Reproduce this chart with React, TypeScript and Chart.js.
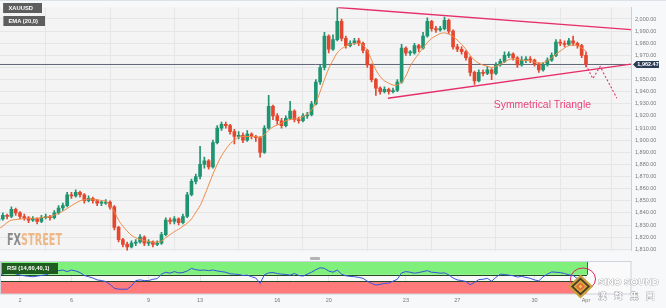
import React, { useEffect, useRef } from 'react';
import { Chart, registerables } from 'chart.js';

Chart.register(...registerables);

// ---- data (4-hour candles, XAU/USD, Mar 1 – Apr 3) ----
const opens = [
  1834,1835,1838,1837,1843,1840,1837,1836,1834,1835,
  1833,1836,1837,1836,1840,1844,1846,1855,1854,1857,
  1855,1850,1852,1850,1848,1848,1849,1845,1828,1818,
  1814,1812,1815,1816,1820,1815,1816,1814,1815,1822,
  1834,1833,1835,1832,1837,1855,1866,1870,1880,1883,
  1878,1898,1910,1913,1912,1907,1903,1904,1900,1905,
  1903,1902,1890,1910,1928,1920,1916,1912,1918,1924,
  1917,1916,1920,1921,1930,1948,1960,1986,1975,1983,
  1998,1984,1978,1980,1982,1980,1974,1962,1950,1943,
  1940,1942,1940,1941,1948,1976,1972,1972,1978,1976,
  1986,1998,1992,1991,1992,1999,1990,1977,1975,1973,
  1968,1956,1949,1956,1955,1958,1955,1962,1965,1970,
  1971,1968,1962,1966,1967,1966,1963,1958,1962,1966,
  1970,1981,1980,1979,1982,1980,1978,1970
];
const closes = [
  1835,1838,1837,1843,1840,1837,1836,1834,1835,1833,
  1836,1837,1836,1840,1844,1846,1855,1854,1857,1855,
  1850,1852,1850,1848,1848,1849,1845,1828,1818,1814,
  1812,1815,1816,1820,1815,1816,1814,1815,1822,1834,
  1833,1835,1832,1837,1855,1866,1870,1880,1883,1878,
  1898,1910,1913,1912,1907,1903,1904,1900,1905,1903,
  1902,1890,1910,1928,1920,1916,1912,1918,1924,1917,
  1916,1920,1921,1930,1948,1960,1986,1975,1983,1998,
  1984,1978,1980,1982,1980,1974,1962,1950,1943,1940,
  1942,1940,1941,1948,1976,1972,1972,1978,1976,1986,
  1998,1992,1991,1992,1999,1990,1977,1975,1973,1968,
  1956,1949,1956,1955,1958,1955,1962,1965,1970,1971,
  1968,1962,1966,1967,1966,1963,1958,1962,1966,1970,
  1981,1980,1979,1982,1980,1978,1970,1962.47
];
const highs = [
  1837,1840,1839,1845,1844,1841,1839,1837,1837,1836,
  1838,1839,1838,1842,1846,1848,1857,1857,1859,1858,
  1856,1854,1853,1851,1850,1851,1850,1846,1829,1819,
  1816,1817,1818,1822,1821,1818,1817,1817,1824,1836,
  1836,1837,1836,1839,1857,1868,1872,1895,1886,1884,
  1900,1912,1915,1915,1913,1909,1907,1906,1908,1906,
  1904,1903,1912,1937,1929,1922,1918,1920,1932,1925,
  1919,1922,1923,1932,1950,1962,1989,1987,1987,2009.5,
  2000,1986,1982,1984,1984,1981,1975,1963,1951,1944,
  1944,1943,1943,1950,1979,1977,1974,1980,1979,1989,
  2001,1999,1994,1994,2001.5,2000,1991,1979,1977,1974,
  1969,1957,1958,1958,1961,1959,1964,1967,1973,1973,
  1972,1969,1969,1969,1969,1967,1964,1964,1968,1972,
  1983,1983,1982,1984,1986,1981,1979,1973
];
const lows = [
  1832,1834,1835,1836,1838,1835,1834,1832,1833,1831,
  1832,1835,1834,1835,1839,1842,1845,1852,1853,1853,
  1848,1849,1848,1846,1846,1847,1843,1826,1816,1812,
  1809,1811,1813,1815,1813,1813,1812,1813,1814,1821,
  1831,1831,1830,1831,1836,1854,1864,1868,1877,1876,
  1877,1897,1908,1910,1905,1897,1901,1898,1899,1901,
  1899,1886,1889,1909,1917,1913,1910,1911,1917,1915,
  1914,1915,1918,1920,1929,1946,1958,1972,1974,1982,
  1982,1976,1977,1979,1978,1972,1960,1948,1937,1938,
  1939,1938,1939,1940,1947,1970,1970,1971,1973,1975,
  1985,1990,1989,1990,1991,1988,1975,1973,1971,1966,
  1953,1946,1948,1953,1954,1950,1954,1961,1964,1968,
  1966,1960,1961,1964,1964,1961,1956,1957,1961,1965,
  1969,1978,1977,1978,1978,1976,1968,1960.5
];
const ema20 = [
  1827,1829,1832,1834,1834.5,1835,1835.3,1835.4,1835.5,1835.6,
  1836,1836.5,1837,1838.2,1839.6,1841.5,1843.5,1846,1848,1850,
  1850.8,1851.3,1851.3,1850.8,1850.3,1849.5,1846,1841,1834,1829,
  1825,1821.5,1819.5,1818,1817,1816.5,1816,1816,1816.8,1819.5,
  1822,1824.5,1826.5,1829,1831.5,1835,1840.5,1846,1854,1863,
  1872,1880,1887,1892.5,1897,1900,1902.5,1903,1903,1903,
  1903,1902.5,1904.5,1908,1911,1912.5,1914,1916,1917,1917.5,
  1918,1919.5,1921.5,1925,1931,1940,1950,1959,1966,1972,
  1975.5,1977.5,1979,1979.8,1980,1978.5,1974,1966,1958,1952.5,
  1949,1947,1945.5,1945.5,1948,1953,1961,1966.5,1971.5,1976,
  1980.5,1984,1986,1988,1988.5,1987.5,1985.5,1982.5,1979,1975,
  1970,1966,1963.5,1962,1961,1960,1961,1962.5,1964.5,1966.5,
  1967,1966.5,1966,1965.8,1965.5,1964.5,1963.5,1964,1965.5,1968,
  1971,1973.5,1976,1978,1978.5,1978,1976,1973.5
];
const rsi14 = [
  60,62,66,70,63,59,57,55,54,56,
  58,60,65,70,73,75,70,75,72,67,
  58,54,50,44,42,39,30,18,15,15,
  15,25,42,44,42,42,46,48,62,68,
  65,70,66,67,72,80,76,74,75,73,
  75,72,70,68,63,62,61,58,59,54,
  50,33,60,66,67,64,62,61,59,64,
  58,56,62,68,76,82,80,72,68,75,
  62,57,55,54,52,49,40,33,28,30,
  33,34,40,46,66,70,68,65,67,70,
  73,68,67,65,66,60,50,44,42,39,
  29,36,45,46,49,40,52,62,61,59,
  57,53,55,52,49,44,41,54,62,69,
  68,67,64,60,58,48,42,38
];

const dayTickIndex = [5, 17, 35, 47, 65, 77, 95, 107, 125, 137];
const dayTickLabels = ['2', '6', '9', '13', '16', '20', '23', '27', '30', 'Apr'];
const priceTicks = [1810,1820,1830,1840,1850,1860,1870,1880,1890,1900,1910,1920,1930,1940,1950,1960,1970,1980,1990,2000];
const rsiUpper = 60;
const rsiLower = 40;
const currentPrice = 1962.47;

// annotation lines (index, price)
const upperTrend = [{ x: 79.2, y: 2009.5 }, { x: 147.5, y: 1991.2 }];
const lowerTrend = [{ x: 90.8, y: 1934.6 }, { x: 147.5, y: 1962.8 }];
const projection = [
  { x: 137, y: 1962.0 },
  { x: 138.6, y: 1950.8 },
  { x: 140.3, y: 1960.8 },
  { x: 144.2, y: 1934.6 },
];
const triangleLabel = { x: 115.5, y: 1926.3, text: 'Symmetrical Triangle' };

const X_MIN = 0.34;
const X_MAX = 147.5;
const PRICE_MIN = 1808.8;
const PRICE_MAX = 2009.65;

// ---- styles ----
const UP = '#1f9470';
const DOWN = '#e4472f';
const PINK = '#e62e68';
const GRID = '#e4e6e8';
const FONT = '"Liberation Sans", Arial, sans-serif';
const AXIS_W = 35;

const fmtPrice = (v: number) =>
  v.toLocaleString('en-US', { minimumFractionDigits: 2, maximumFractionDigits: 2 });

const mainPlugin = {
  id: 'mainDeco',
  beforeDraw(chart: any) {
    const { ctx, chartArea: a, width } = chart;
    ctx.save();
    ctx.fillStyle = '#f4f4f4';
    ctx.fillRect(a.left, a.top, a.right - a.left, a.bottom - a.top);
    ctx.strokeStyle = '#dde2e8';
    ctx.lineWidth = 1;
    ctx.beginPath();
    ctx.moveTo(0, 0.5);
    ctx.lineTo(width, 0.5);
    ctx.stroke();
    ctx.restore();
  },
  beforeDatasetsDraw(chart: any) {
    const { ctx } = chart;
    ctx.save();
    ctx.font = 'bold 16px "DejaVu Sans", sans-serif';
    const w1 = ctx.measureText('FX').width;
    const w2 = ctx.measureText('STREET').width;
    const sx = 55 / (w1 + w2);
    ctx.translate(7, 245);
    ctx.scale(sx, 1);
    ctx.textBaseline = 'alphabetic';
    ctx.fillStyle = 'rgba(120,120,120,0.85)';
    ctx.fillText('FX', 0, 0);
    ctx.fillStyle = 'rgba(236,170,110,0.8)';
    ctx.fillText('STREET', w1, 0);
    ctx.restore();
  },
  afterDatasetsDraw(chart: any) {
    const { ctx, scales } = chart;
    ctx.save();
    ctx.font = `10.4px ${FONT}`;
    ctx.fillStyle = '#ec4479';
    ctx.textBaseline = 'alphabetic';
    ctx.textAlign = 'left';
    ctx.fillText(
      triangleLabel.text,
      scales.x.getPixelForValue(triangleLabel.x),
      scales.y.getPixelForValue(triangleLabel.y)
    );
    ctx.restore();
  },
  afterDraw(chart: any) {
    const { ctx, scales, chartArea: a } = chart;
    const y = scales.y.getPixelForValue(currentPrice);
    const x0 = a.right + 2;
    ctx.save();
    ctx.fillStyle = '#2b3d56';
    ctx.beginPath();
    ctx.moveTo(x0, y);
    ctx.lineTo(x0 + 3.5, y - 3.4);
    ctx.lineTo(x0 + 26, y - 3.4);
    ctx.lineTo(x0 + 26, y + 3.4);
    ctx.lineTo(x0 + 3.5, y + 3.4);
    ctx.closePath();
    ctx.fill();
    ctx.fillStyle = '#ffffff';
    ctx.font = `bold 5.5px ${FONT}`;
    ctx.textAlign = 'center';
    ctx.textBaseline = 'middle';
    ctx.fillText(fmtPrice(currentPrice), x0 + 15, y + 0.3);
    ctx.restore();
  },
};

const rsiPlugin = {
  id: 'rsiDeco',
  beforeDraw(chart: any) {
    const { ctx, chartArea: a } = chart;
    ctx.save();
    ctx.fillStyle = '#fafafa';
    ctx.fillRect(a.left, a.top, a.right - a.left, a.bottom - a.top);
    ctx.restore();
  },
  beforeDatasetsDraw(chart: any) {
    const { ctx, chartArea: a, scales } = chart;
    const { x, y } = scales;
    const xr = x.getPixelForValue(closes.length - 1) + 1;
    const yTop = y.getPixelForValue(100);
    const yUp = y.getPixelForValue(rsiUpper);
    const yLo = y.getPixelForValue(rsiLower);
    const yBot = y.getPixelForValue(0);
    ctx.save();
    ctx.fillStyle = '#80f07c';
    ctx.fillRect(a.left, yTop, xr - a.left, yUp - yTop);
    ctx.fillStyle = '#ff7b7b';
    ctx.fillRect(a.left, yLo, xr - a.left, yBot - yLo);
    ctx.strokeStyle = '#244a24';
    ctx.lineWidth = 1;
    ctx.beginPath();
    ctx.moveTo(a.left, Math.round(yUp) + 0.5);
    ctx.lineTo(xr, Math.round(yUp) + 0.5);
    ctx.moveTo(a.left, Math.round(yLo) + 0.5);
    ctx.lineTo(xr, Math.round(yLo) + 0.5);
    ctx.stroke();
    ctx.strokeStyle = '#2f7a2f';
    ctx.beginPath();
    ctx.moveTo(Math.round(xr) + 0.5, yTop);
    ctx.lineTo(Math.round(xr) + 0.5, yUp);
    ctx.moveTo(a.left + 0.5, yTop);
    ctx.lineTo(a.left + 0.5, yUp);
    ctx.stroke();
    ctx.restore();
  },
  afterDraw(chart: any) {
    const { ctx, chartArea: a } = chart;
    ctx.save();
    ctx.strokeStyle = '#cdd4dd';
    ctx.lineWidth = 1;
    ctx.strokeRect(a.left + 0.5, a.top - 0.5, a.right - a.left - 0.5, a.bottom - a.top + 0.5);
    ctx.restore();
  },
};

export default function App() {
  const mainRef = useRef<HTMLCanvasElement>(null);
  const rsiRef = useRef<HTMLCanvasElement>(null);

  useEffect(() => {
    const idx = closes.map((_, i) => i);
    const colors = closes.map((c, i) => (c >= opens[i] ? UP : DOWN));

    const main = new Chart(mainRef.current as HTMLCanvasElement, {
      type: 'bar',
      data: {
        datasets: [
          {
            type: 'line',
            label: 'Upper trendline',
            data: upperTrend,
            borderColor: PINK,
            borderWidth: 1.4,
            pointRadius: 0,
            order: -2,
          } as any,
          {
            type: 'line',
            label: 'Lower trendline',
            data: lowerTrend,
            borderColor: PINK,
            borderWidth: 1.4,
            pointRadius: 0,
            order: -2,
          },
          {
            type: 'line',
            label: 'Projection',
            data: projection,
            borderColor: PINK,
            borderWidth: 1.1,
            borderDash: [2, 2],
            pointRadius: 0,
            order: -2,
          },
          {
            type: 'line',
            label: 'Last price',
            data: [{ x: X_MIN, y: currentPrice }, { x: X_MAX, y: currentPrice }],
            borderColor: '#5f6575',
            borderWidth: 1,
            pointRadius: 0,
            order: 10,
          },
          {
            type: 'line',
            label: 'EMA (20,0)',
            data: idx.map((i) => ({ x: i, y: ema20[i] })),
            borderColor: '#f08a45',
            borderWidth: 1,
            pointRadius: 0,
            tension: 0.4,
            order: 0,
          },
          {
            type: 'bar',
            label: 'XAUUSD body',
            data: idx.map((i) => ({ x: i, y: [opens[i], closes[i]] })),
            backgroundColor: colors,
            barThickness: 3,
            minBarLength: 1,
            grouped: false,
            order: 1,
          },
          {
            type: 'bar',
            label: 'XAUUSD wick',
            data: idx.map((i) => ({ x: i, y: [lows[i], highs[i]] })),
            backgroundColor: colors,
            barThickness: 1,
            grouped: false,
            order: 2,
          },
        ] as any,
      },
      options: {
        animation: false,
        responsive: false,
        maintainAspectRatio: false,
        layout: { padding: { top: 1, bottom: 1, left: 0, right: 0 } },
        plugins: { legend: { display: false }, tooltip: { enabled: false } },
        scales: {
          x: {
            type: 'linear',
            min: X_MIN,
            max: X_MAX,
            offset: false,
            grid: { color: GRID, drawTicks: false },
            border: { display: false },
            ticks: { display: false },
            afterBuildTicks: (axis: any) => {
              axis.ticks = dayTickIndex.map((v) => ({ value: v }));
            },
            afterFit: (s: any) => {
              s.height = 0;
            },
          },
          y: {
            type: 'linear',
            position: 'right',
            min: PRICE_MIN,
            max: PRICE_MAX,
            grid: { color: GRID, drawTicks: false },
            border: { display: true, color: '#c9d1db' },
            ticks: {
              color: '#7a7a7a',
              font: { size: 5.5, family: FONT },
              padding: 4,
              callback: (v: any) => (Math.abs(v - currentPrice) < 4 ? '' : fmtPrice(Number(v))),
            },
            afterBuildTicks: (axis: any) => {
              axis.ticks = priceTicks.map((v) => ({ value: v }));
            },
            afterFit: (s: any) => {
              s.width = AXIS_W;
            },
          },
        },
      } as any,
      plugins: [mainPlugin],
    });

    const rsi = new Chart(rsiRef.current as HTMLCanvasElement, {
      type: 'line',
      data: {
        datasets: [
          {
            label: 'RSI (14,60,40,1)',
            data: idx.map((i) => ({ x: i, y: rsi14[i] })),
            borderColor: '#3652e0',
            borderWidth: 1,
            pointRadius: 0,
            tension: 0,
          },
        ],
      },
      options: {
        animation: false,
        responsive: false,
        maintainAspectRatio: false,
        layout: { padding: { top: 4, bottom: 0, left: 0, right: 0 } },
        plugins: { legend: { display: false }, tooltip: { enabled: false } },
        scales: {
          x: {
            type: 'linear',
            min: X_MIN,
            max: X_MAX,
            offset: false,
            grid: { color: GRID, drawTicks: false },
            border: { display: false },
            ticks: {
              color: '#777777',
              font: { size: 5.5, family: FONT },
              padding: 3,
              maxRotation: 0,
              autoSkip: false,
              callback: (v: any) => {
                const k = dayTickIndex.indexOf(Number(v));
                return k >= 0 ? dayTickLabels[k] : '';
              },
            },
            afterBuildTicks: (axis: any) => {
              axis.ticks = dayTickIndex.map((v) => ({ value: v }));
            },
            afterFit: (s: any) => {
              s.height = 14;
            },
          },
          y: {
            type: 'linear',
            position: 'right',
            min: 0,
            max: 100,
            grid: { display: false },
            border: { display: false },
            ticks: { display: false },
            afterFit: (s: any) => {
              s.width = AXIS_W;
            },
          },
        },
      } as any,
      plugins: [rsiPlugin],
    });

    return () => {
      main.destroy();
      rsi.destroy();
    };
  }, []);

  const tag = (top: number, left: number, width: number, height: number, bg: string, edge: string, text: string) => (
    <div
      style={{
        position: 'absolute',
        top,
        left,
        width,
        height,
        background: bg,
        borderLeft: `1.5px solid ${edge}`,
        color: '#ffffff',
        fontFamily: FONT,
        fontWeight: 'bold',
        fontSize: 5.8,
        lineHeight: `${height}px`,
        paddingLeft: 5,
        boxSizing: 'border-box',
        whiteSpace: 'nowrap',
      }}
    >
      {text}
    </div>
  );

  return (
    <div
      style={{
        position: 'absolute',
        left: 0,
        top: 0,
        width: 666,
        height: 308,
        background: '#f7f8fa',
        overflow: 'hidden',
      }}
    >
      <canvas ref={mainRef} width={666} height={258} style={{ position: 'absolute', left: 0, top: 0, width: 666, height: 258 }} />
      <canvas ref={rsiRef} width={666} height={50} style={{ position: 'absolute', left: 0, top: 258, width: 666, height: 50 }} />
      {tag(3, 2.5, 39.5, 10, 'rgba(80,80,80,0.92)', '#1f9470', 'XAUUSD')}
      {tag(16, 2.5, 42, 10, 'rgba(80,80,80,0.92)', '#f07a3a', 'EMA (20,0)')}
      {tag(262.5, 1, 57, 11.5, 'rgba(24,80,24,0.92)', '#3ee03e', 'RSI (14,60,40,1)')}
      <div style={{ position: 'absolute', left: 310, top: 257, width: 10, height: 2.5, background: '#b4b4b4', borderRadius: 1 }} />
      <svg width={666} height={308} style={{ position: 'absolute', left: 0, top: 0, pointerEvents: 'none' }}>
        <ellipse cx={583} cy={279} rx={12.5} ry={11} fill="none" stroke="#e0245e" strokeWidth={1} />
        <polygon points="580.5,274.5 593,286.5 580.5,298.5 568,286.5" fill="#c9a23a" />
        <polygon points="580.5,277.5 590,286.5 580.5,295.5 571,286.5" fill="#4a3a2c" />
        <polygon points="580.5,280 587.5,286.5 580.5,293 573.5,286.5" fill="#d8a640" />
        <polygon points="580.5,282.5 585,286.5 580.5,290.5 576,286.5" fill="#e0683a" />
        <polygon points="580.5,284.5 582.5,286.5 580.5,288.5 578.5,286.5" fill="#f3c44e" />
        <text
          x={598}
          y={285}
          fontFamily={FONT}
          fontWeight="bold"
          fontSize={9.6}
          fill="#ffffff"
          stroke="#8a8a8a"
          strokeWidth={0.6}
          paintOrder="stroke"
        >
          SINO SOUND
        </text>
        <text
          x={598}
          y={299}
          fontFamily='"Noto Sans CJK TC", sans-serif'
          fontWeight="bold"
          fontSize={8.5}
          fill="#ffffff"
          stroke="#8a8a8a"
          strokeWidth={0.6}
          paintOrder="stroke"
          letterSpacing={7.5}
        >
          漢聲集團
        </text>
      </svg>
    </div>
  );
}
